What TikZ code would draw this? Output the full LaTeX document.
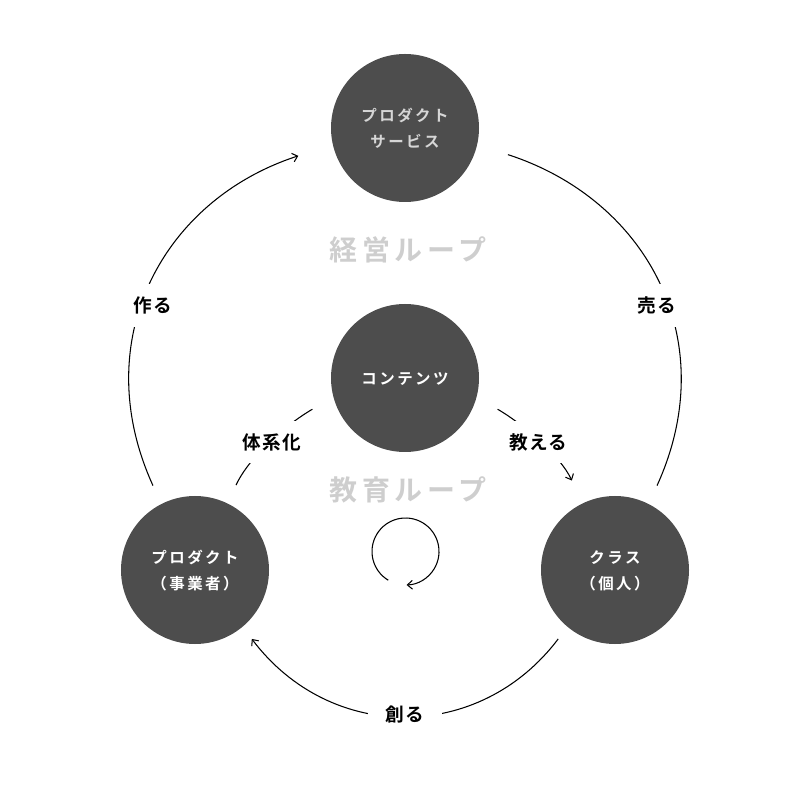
\documentclass[tikz,border=0pt]{standalone}
\usepackage{fontspec}
\setmainfont{Noto Sans CJK JP}[BoldFont={* Bold}]
\definecolor{nodegray}{RGB}{77, 77, 77}
\definecolor{loopgray}{RGB}{206, 206, 206}
\definecolor{softwhite}{RGB}{214, 214, 214}
\usepackage{tikz}
\usetikzlibrary{arrows.meta, positioning}

\begin{document}
\begin{tikzpicture}[
  disc/.style={circle, fill=nodegray, minimum size=2.96cm, inner sep=0pt, align=center, text=white, text depth=0pt, font=\bfseries\fontsize{8.8}{14.8}\selectfont\addfontfeatures{LetterSpace=16}},
  verb/.style={fill=white, inner xsep=10pt, inner ysep=7pt, font=\bfseries\fontsize{10.6}{12}\selectfont\addfontfeatures{LetterSpace=6}},
  loopname/.style={text=loopgray, font=\bfseries\fontsize{15.9}{18}\selectfont\addfontfeatures{LetterSpace=17}},
  flow/.style={line width=0.6pt},
  arr/.style={flow, -{Straight Barb[length=2.8pt, width=5pt]}}
]
  \useasboundingbox (-8,-8) rectangle (8,8);

  % circles
  \node[disc, text=softwhite] (product) at (0.1, 5.44) {プロダクト\\サービス};
  \node[disc] (contents) at (0.1, 0.44) {コンテンツ};
  \node[disc] (maker) at (-4.1, -3.4) {プロダクト\\（事業者）};
  \node[disc] (klass) at (4.3, -3.4) {クラス\\（個人）};

  % loop titles
  \node[loopname] (mgmt) at (0.16, 3) {経営ループ};
  \node[loopname] (edu) at (0.16, -1.8) {教育ループ};

  % outer loop
  \draw[arr, shorten <=0.4cm, shorten >=0.72cm] (maker.117) to[out=114.5, in=198, looseness=1.15] node[verb, pos=0.45, xshift=0.12cm, yshift=-0.05cm] {作る} (product.193);
  \draw[flow, shorten <=0.64cm, shorten >=0.4cm] (product.347) to[out=342, in=65.5, looseness=1.15] node[verb, pos=0.55, xshift=-0.12cm, yshift=-0.05cm] {売る} (klass.63);
  \draw[arr, shorten <=0.3cm, shorten >=0.3cm] (klass.230) to[out=233, in=307, looseness=1.15] node[verb] {創る} (maker.310);

  % inner loop
  \draw[flow, shorten <=0.48cm, shorten >=0.4cm] (contents.195) to[out=210, in=65, looseness=0.9] node[verb] {体系化} (maker.64);
  \draw[arr, shorten <=0.48cm, shorten >=0.5cm] (contents.345) to[out=330, in=115, looseness=0.9] node[verb] {教える} (klass.116);

  \coordinate (spin) at (0.11, -3.03);
  \draw[arr] (spin) ++(239:0.67) arc[start angle=239, end angle=-88, radius=0.67];
\end{tikzpicture}
\end{document}
